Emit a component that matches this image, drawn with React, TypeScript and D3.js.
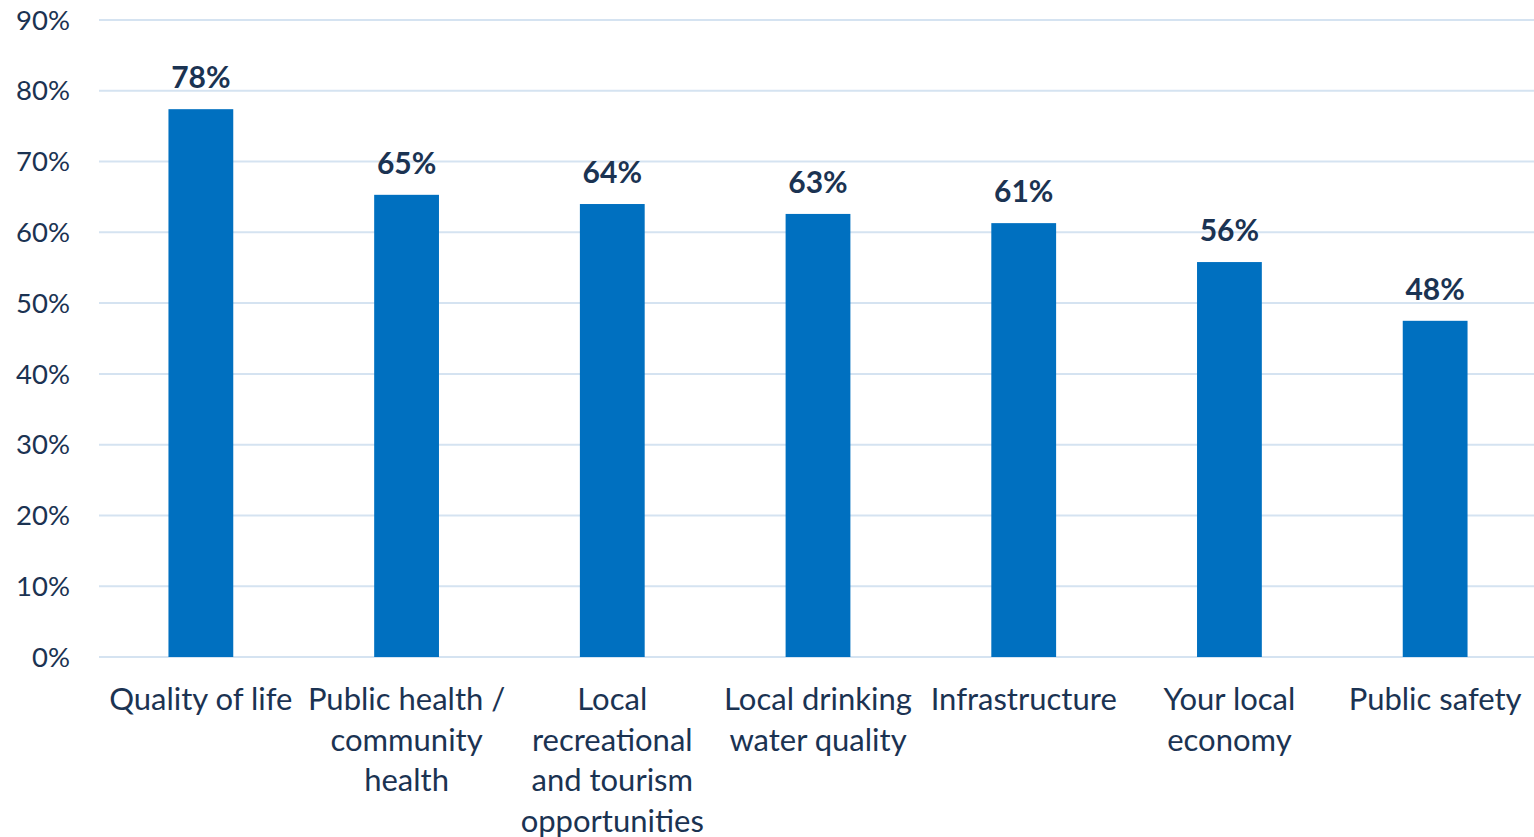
import React, { useEffect, useRef } from 'react';
import * as d3 from 'd3';

const categories = [
  ['Quality of life'],
  ['Public health /', 'community', 'health'],
  ['Local', 'recreational', 'and tourism', 'opportunities'],
  ['Local drinking', 'water quality'],
  ['Infrastructure'],
  ['Your local', 'economy'],
  ['Public safety'],
];
const values = [77.4, 65.3, 64.0, 62.6, 61.3, 55.8, 47.5];
const valueLabels = ['78%', '65%', '64%', '63%', '61%', '56%', '48%'];
const yTicks = [0, 10, 20, 30, 40, 50, 60, 70, 80, 90];

const App: React.FC = () => {
  const ref = useRef<SVGSVGElement>(null);

  useEffect(() => {
    const width = 1534;
    const height = 837;
    const font = 'Lato, "Noto Sans", sans-serif';
    const textColor = '#1b3352';

    const svg = d3.select(ref.current);
    svg.selectAll('*').remove();
    svg.attr('width', width).attr('height', height);

    const x = d3.scaleBand<number>()
      .domain(d3.range(categories.length))
      .range([98, 1538])
      .paddingInner(0.685)
      .paddingOuter(0.3425);

    const y = d3.scaleLinear().domain([0, 90]).range([657, 20]);

    // gridlines
    svg.append('g')
      .selectAll('line')
      .data(yTicks)
      .enter().append('line')
      .attr('x1', 99)
      .attr('x2', width)
      .attr('y1', d => y(d))
      .attr('y2', d => y(d))
      .attr('stroke', '#d5e3f1')
      .attr('stroke-width', 2);

    // y tick labels
    svg.append('g')
      .selectAll('text')
      .data(yTicks)
      .enter().append('text')
      .attr('x', 70)
      .attr('y', d => y(d))
      .attr('dy', '0.35em')
      .attr('text-anchor', 'end')
      .style('font-family', font)
      .style('font-size', '27.5px')
      .attr('fill', textColor)
      .text(d => `${d}%`);

    // bars
    svg.append('g')
      .selectAll('rect')
      .data(values)
      .enter().append('rect')
      .attr('x', (d, i) => x(i)!)
      .attr('width', x.bandwidth())
      .attr('y', d => y(d))
      .attr('height', d => y(0) - y(d))
      .attr('fill', '#0070c0');

    // value labels
    svg.append('g')
      .selectAll('text')
      .data(values)
      .enter().append('text')
      .attr('x', (d, i) => x(i)! + x.bandwidth() / 2)
      .attr('y', d => y(d) - 21)
      .attr('text-anchor', 'middle')
      .style('font-family', font)
      .style('font-size', '30px')
      .style('font-weight', 'bold')
      .attr('fill', textColor)
      .text((d, i) => valueLabels[i]);

    // category labels
    const cat = svg.append('g')
      .selectAll('text')
      .data(categories)
      .enter().append('text')
      .attr('text-anchor', 'middle')
      .style('font-family', font)
      .style('font-size', '31px')
      .attr('fill', textColor);

    cat.each(function (lines, i) {
      const t = d3.select(this);
      lines.forEach((line, j) => {
        t.append('tspan')
          .attr('x', x(i)! + x.bandwidth() / 2)
          .attr('y', 710 + j * 40.5)
          .text(line);
      });
    });
  }, []);

  return <svg ref={ref} style={{ position: 'absolute', left: 0, top: 0, display: 'block' }}></svg>;
};

export default App;
